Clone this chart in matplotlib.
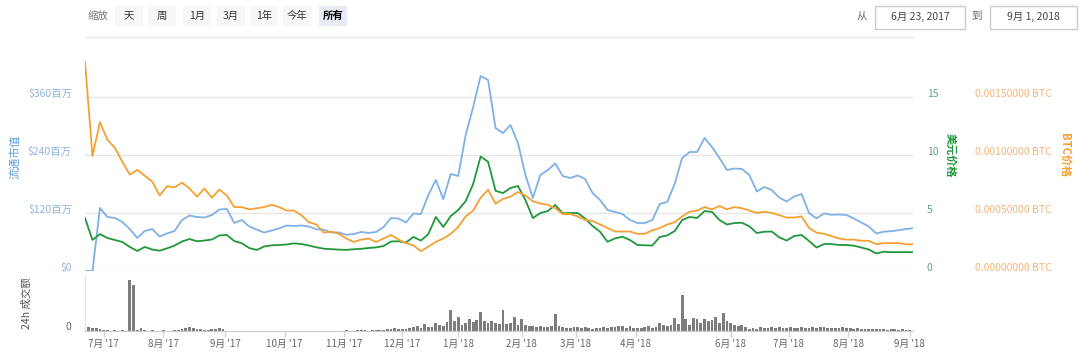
import matplotlib
matplotlib.use("Agg")
import matplotlib.pyplot as plt
import matplotlib.dates as mdates
import matplotlib.transforms as mtransforms
from matplotlib.patches import Rectangle
from matplotlib.lines import Line2D
import pandas as pd

plt.rcParams['font.family'] = ['Noto Sans CJK SC', 'DejaVu Sans']

# Datos (cada 4 dias para las lineas, cada 2 dias para el volumen)
start = "2017-06-23"
dates = pd.date_range(start, periods=112, freq="4D")
vol_dates = pd.date_range(start, periods=222, freq="2D")

# 流通市值 (百万美元)
market_cap = [
    0, 0, 130.1, 111.5, 109.5, 101.2, 86.7, 68.2, 82.6, 86.7,
    71.3, 77.5, 82.6, 105.3, 114.6, 111.5, 110.5, 115.7, 127.0, 128.1,
    99.1, 105.3, 91.9, 85.7, 79.5, 83.6, 87.8, 94.0, 92.9, 94.0,
    91.9, 86.1, 85.1, 79.5, 79.5, 74.8, 76.4, 80.6, 78.5, 80.6,
    90.9, 109.5, 108.4, 100.2, 118.8, 117.7, 157.0, 188.0, 148.7, 200.3,
    196.2, 280.9, 338.7, 402.8, 394.5, 295.4, 285.0, 301.5, 264.4, 198.3,
    150.8, 198.3, 208.6, 222.0, 196.2, 192.1, 197.2, 190.0, 161.1, 146.6,
    126.0, 121.9, 117.7, 105.3, 99.1, 99.1, 105.3, 138.4, 142.5, 179.7,
    233.4, 245.8, 245.8, 274.7, 256.1, 233.4, 208.6, 211.7, 210.7, 198.3,
    164.2, 173.5, 167.3, 151.8, 143.5, 153.9, 159.0, 119.8, 108.8, 118.8,
    116.1, 116.7, 115.7, 108.4, 100.2, 91.9, 77.5, 81.2, 82.2, 84.3,
    86.7, 88.2,
]

# 美元价格
price_usd = [
    4.56, 2.67, 3.18, 2.84, 2.67, 2.50, 2.07, 1.72, 2.07, 1.85,
    1.75, 1.95, 2.19, 2.54, 2.75, 2.56, 2.62, 2.71, 3.06, 3.10,
    2.58, 2.39, 1.98, 1.81, 2.11, 2.21, 2.24, 2.28, 2.38, 2.32,
    2.19, 2.04, 1.92, 1.88, 1.84, 1.82, 1.87, 1.91, 1.98, 2.03,
    2.15, 2.54, 2.56, 2.45, 2.93, 2.62, 3.18, 4.65, 3.79, 4.73,
    5.25, 6.02, 7.49, 9.85, 9.40, 6.90, 6.71, 7.14, 7.32, 6.11,
    4.56, 4.99, 5.16, 5.68, 4.97, 4.99, 4.99, 4.52, 3.87, 3.38,
    2.52, 2.80, 2.95, 2.67, 2.24, 2.21, 2.19, 2.93, 3.06, 3.44,
    4.39, 4.65, 4.56, 5.16, 5.08, 4.39, 4.00, 4.13, 4.15, 3.85,
    3.27, 3.38, 3.40, 2.90, 2.62, 3.01, 3.10, 2.58, 2.02, 2.32,
    2.32, 2.24, 2.24, 2.18, 2.02, 1.85, 1.51, 1.66, 1.62, 1.62,
    1.63, 1.61,
]

# BTC价格
price_btc = [
    0.00180, 0.00099, 0.00128, 0.00113, 0.00106, 0.00094, 0.00083, 0.00087, 0.00082, 0.00077,
    0.00065, 0.00073, 0.00072, 0.00076, 0.00071, 0.00064, 0.00071, 0.00063, 0.00070, 0.00065,
    0.00055, 0.00055, 0.00053, 0.00054, 0.00055, 0.00057, 0.00055, 0.00052, 0.00052, 0.00048,
    0.00042, 0.00040, 0.00033, 0.00034, 0.00032, 0.00028, 0.00025, 0.00027, 0.00028, 0.00025,
    0.00028, 0.00031, 0.00027, 0.00024, 0.00022, 0.00017, 0.00021, 0.00025, 0.00028, 0.00032,
    0.00038, 0.00047, 0.00052, 0.00063, 0.00070, 0.00058, 0.00062, 0.00064, 0.00068, 0.00065,
    0.00060, 0.00058, 0.00057, 0.00054, 0.00049, 0.00049, 0.00047, 0.00044, 0.00043, 0.00040,
    0.00037, 0.00034, 0.00034, 0.00034, 0.00032, 0.00032, 0.00035, 0.00037, 0.00040, 0.00042,
    0.00047, 0.00051, 0.00052, 0.00055, 0.00053, 0.00056, 0.00053, 0.00055, 0.00054, 0.00052,
    0.00050, 0.00051, 0.00050, 0.00048, 0.00046, 0.00046, 0.00047, 0.00037, 0.00033, 0.00032,
    0.00030, 0.00028, 0.00027, 0.00027, 0.00026, 0.00026, 0.00023, 0.00024, 0.00024, 0.00024,
    0.00023, 0.00023,
]

# 24h 成交额 (relativo)
volume = [
    6, 4, 3.5, 3, 2, 1, 1, 0.5, 1, 0.5, 1, 0.5,
    51, 46, 1, 3, 1, 0.5, 1, 0.5, 0.5, 1, 0.5, 0.5,
    1, 1.5, 2, 3, 4.5, 3, 2, 2, 1.5, 1, 2, 2, 3, 2,
    0.5, 0.5, 0.5, 0, 0.5, 0, 0.5, 0, 0,
    0, 0.5, 0, 0, 0.5, 0, 0, 0, 0.5, 0, 0, 0, 0, 0.5, 0, 0, 0, 0, 0, 0.5,
    0.5, 0, 0.5, 1, 0.5, 0.5, 1, 1, 1, 0.5, 1, 1,
    1, 1, 2, 2, 3, 2.5, 2, 2, 3, 4, 5, 3, 7, 4, 4, 8, 6, 5,
    9, 21, 10, 14, 6, 8, 12, 9, 11, 19, 10, 8, 10, 8, 7, 21, 7, 8, 14, 6, 12, 6,
    5, 5, 4, 5, 4, 4, 5, 17, 5, 4, 3, 3, 4, 4, 3, 4, 3, 2, 3, 3,
    4, 3, 4, 4, 5, 5, 3, 5, 3, 3, 3, 4, 5, 3, 4,
    8, 6, 5, 6, 13, 7, 36, 12, 6, 13, 12, 8, 12, 10, 11, 14, 8, 18, 10, 8, 6, 5, 6, 4,
    2, 3, 2, 4, 3, 3, 4, 3, 4, 3, 3, 4, 3, 3, 4, 3, 3, 4, 3, 4,
    4, 3, 3, 3, 3, 4, 3, 3, 2, 3, 2, 2, 2, 2, 2, 2, 2, 1, 2, 2, 1, 2, 1, 1,
]

# El eje original es ordinal (huecos comprimidos): posiciones de las etiquetas de mes
tick_dates = ["2017-07-03", "2017-08-04", "2017-09-06", "2017-10-08", "2017-11-09",
              "2017-12-10", "2018-01-09", "2018-02-12", "2018-03-13", "2018-04-14",
              "2018-06-04", "2018-07-05", "2018-08-06", "2018-09-08"]
month_labels = ["7月 '17", "8月 '17", "9月 '17", "10月 '17", "11月 '17", "12月 '17",
                "1月 '18", "2月 '18", "3月 '18", "4月 '18", "6月 '18", "7月 '18",
                "8月 '18", "9月 '18"]

cap_ticks = [0, 120, 240, 360]
cap_labels = ["$0", "$120百万", "$240百万", "$360百万"]
usd_ticks = [0, 5, 10, 15]
btc_ticks = [0, 0.0005, 0.0010, 0.0015]

range_buttons = ["天", "周", "1月", "3月", "1年", "今年", "所有"]

BLUE = "#7fb1e6"
GREEN = "#21973c"
ORANGE = "#f5a033"

W, H = 1080, 353
fig = plt.figure(figsize=(W / 100, H / 100), dpi=100)


def fx(px):
    return px / W


def fy(py):
    return 1 - py / H


# Ejes principales
left, right = 85, 913
ax = fig.add_axes([fx(left), fy(271), fx(right - left), (271 - 55) / H])
ax2 = ax.twinx()
ax3 = ax.twinx()

t0 = mdates.date2num(pd.Timestamp(start))
xlim = (t0, t0 + 443.7)
scale = 216 / 174.3

ax.plot(dates, market_cap, color=BLUE, lw=1.3, solid_joinstyle="round")
ax2.plot(dates, price_usd, color=GREEN, lw=1.3, solid_joinstyle="round")
ax3.plot(dates, price_btc, color=ORANGE, lw=1.3, solid_joinstyle="round")

ax.set_ylim(0, 360 * scale)
ax2.set_ylim(0, 15 * scale)
ax3.set_ylim(0, 0.0015 * scale)
for a in (ax, ax2, ax3):
    a.set_xlim(xlim)
    a.set_xticks([])
    for s in a.spines.values():
        s.set_visible(False)
    a.patch.set_visible(False)

ax.set_yticks(cap_ticks)
ax.set_yticklabels(cap_labels)
ax.tick_params(axis="y", length=0, pad=9.5, labelsize=7.5, labelcolor="#8eb3dc")
ax.grid(True, axis="y", color="#e6e6e6", lw=1)
ax.set_axisbelow(True)

ax2.set_yticks(usd_ticks)
ax2.set_yticklabels([str(v) for v in usd_ticks])
ax2.tick_params(axis="y", length=0, pad=10, labelsize=7.5, labelcolor="#62a37c")

ax3.set_yticks(btc_ticks)
ax3.set_yticklabels([f"{v:.8f} BTC" for v in btc_ticks])
ax3.tick_params(axis="y", length=0, pad=44.5, labelsize=7.5, labelcolor="#f2b77c")

lift = mtransforms.ScaledTranslation(0, 4 / 100, fig.dpi_scale_trans)
for a in (ax, ax2, ax3):
    for t in a.get_yticklabels():
        t.set_transform(t.get_transform() + lift)

# Titulos de los ejes
fig.text(fx(15), fy(157), "流通市值", rotation=90, ha="center", va="center",
         fontsize=8, color="#5f9bd8")
fig.text(fx(950), fy(155), "美元价格", rotation=270, ha="center", va="center",
         fontsize=8, color=GREEN, weight="bold")
fig.text(fx(1065), fy(155), "BTC价格", rotation=270, ha="center", va="center",
         fontsize=8, color=ORANGE, weight="bold")

# Panel de volumen
axv = fig.add_axes([fx(left), fy(331), fx(right - left), (331 - 276) / H])
axv.bar(vol_dates, volume, width=1.5, color="#7d7d7d", edgecolor="none", align="center")
axv.set_xlim(xlim)
axv.set_ylim(0, 55)
axv.set_yticks([0])
axv.set_yticklabels(["0"])
axv.tick_params(axis="y", length=0, pad=10, labelsize=7.5, labelcolor="#666666")
for t in axv.get_yticklabels():
    t.set_transform(t.get_transform() + mtransforms.ScaledTranslation(0, 5 / 100, fig.dpi_scale_trans))
axv.set_xticks(pd.to_datetime(tick_dates))
axv.set_xticklabels(month_labels)
axv.tick_params(axis="x", length=4, width=1, color="#ccd6eb", pad=1.5,
                labelsize=7, labelcolor="#666666")
for s in ("top", "right"):
    axv.spines[s].set_visible(False)
axv.spines["bottom"].set_color("#cccccc")
axv.spines["left"].set_color("#e3e3e3")
axv.patch.set_visible(False)
fig.text(fx(27), fy(303), "24h 成交额", rotation=90, ha="center", va="center",
         fontsize=7.5, color="#555555")

# Barra superior: selector de rango y fechas
fig.add_artist(Line2D([fx(85), fx(913)], [fy(37), fy(37)], color="#e6e6e6", lw=1))
fig.text(fx(98), fy(16), "缩放", ha="center", va="center", fontsize=7.5, color="#777777")
button_x = [129, 162, 197, 231, 264, 297, 333]
for lab, cx in zip(range_buttons, button_x):
    selected = lab == "所有"
    fig.add_artist(Rectangle((fx(cx - 14), fy(26)), fx(28), 20 / H,
                             facecolor="#e6ebf5" if selected else "#f7f7f7",
                             edgecolor="none"))
    fig.text(fx(cx), fy(16), lab, ha="center", va="center", fontsize=7.5,
             color="#000000" if selected else "#333333",
             weight="bold" if selected else "normal")

fig.text(fx(862), fy(16), "从", ha="center", va="center", fontsize=7.5, color="#666666")
fig.text(fx(977), fy(16), "到", ha="center", va="center", fontsize=7.5, color="#666666")
for x0, x1, txt in [(875, 965, "6月 23, 2017"), (990, 1077, "9月 1, 2018")]:
    fig.add_artist(Rectangle((fx(x0), fy(29)), fx(x1 - x0), 23 / H,
                             facecolor="white", edgecolor="#cccccc", lw=1))
    fig.text(fx((x0 + x1) / 2), fy(17), txt, ha="center", va="center",
             fontsize=7.5, color="#444444")

fig.savefig("out.png", dpi=100)
